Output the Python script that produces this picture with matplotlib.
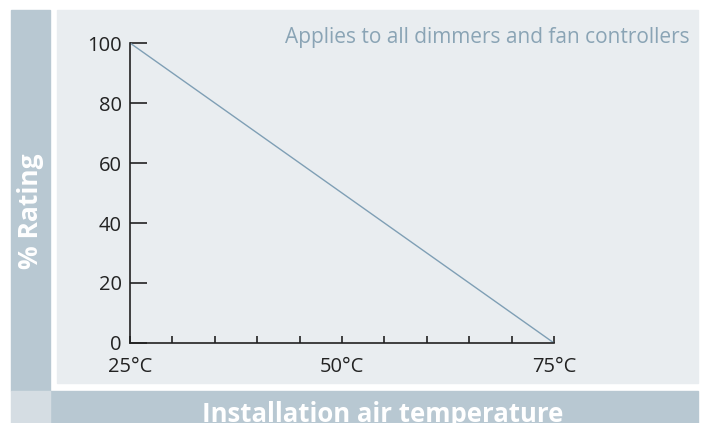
import matplotlib.pyplot as plt
from matplotlib.patches import Rectangle

# Dados do gráfico de derating
temperatura = [25, 75]
rating = [100, 0]
ticks_x = [25, 30, 35, 40, 45, 50, 55, 60, 65, 70, 75]
rotulos_x = {25: "25°C", 50: "50°C", 75: "75°C"}
ticks_y = [0, 20, 40, 60, 80, 100]

W, H = 706, 423
plt.rcParams['font.family'] = ['Open Sans', 'DejaVu Sans']
fig = plt.figure(figsize=(W / 100, H / 100), dpi=100)

def ret(x0, y0, x1, y1, cor):
    # retângulo em pixels (origem no canto superior esquerdo)
    fig.patches.append(Rectangle((x0 / W, 1 - y1 / H), (x1 - x0) / W, (y1 - y0) / H,
                                 transform=fig.transFigure, color=cor, zorder=-5))

ret(11, 10, 50, 391, '#b8c8d2')   # faixa esquerda
ret(57, 10, 698, 383, '#e9edf0')  # painel principal
ret(50, 391, 698, 423, '#b8c8d2') # faixa inferior
ret(11, 391, 50, 423, '#d5dde3')  # canto

ax = fig.add_axes([130 / W, 1 - 343 / H, (554 - 130) / W, (343 - 43) / H])
ax.set_zorder(2)
ax.patch.set_visible(False)
ax.plot(temperatura, rating, color='#7f9fb5', lw=1)
ax.set_xlim(25, 75)
ax.set_ylim(0, 100)
for s in ['top', 'right']:
    ax.spines[s].set_visible(False)
for s in ['left', 'bottom']:
    ax.spines[s].set_linewidth(1.2)
    ax.spines[s].set_color('#222222')

ax.set_yticks(ticks_y)
ax.tick_params(axis='y', direction='in', length=12, width=1.2, color='#222222',
               labelsize=14.5, labelcolor='#222222', pad=6)
ax.set_xticks(ticks_x)
ax.set_xticklabels([rotulos_x.get(t, "") for t in ticks_x])
ax.tick_params(axis='x', direction='in', length=5, width=1.2, color='#222222',
               labelsize=14.5, labelcolor='#222222', pad=10)

fig.text(690 / W, 1 - 37 / H, "Applies to all dimmers and fan controllers",
         ha='right', va='center', fontsize=15, color='#8aa4b5')
fig.text(31 / W, 1 - 211 / H, "% Rating", rotation=90, ha='center', va='center',
         fontsize=19, fontweight='bold', color='white')
fig.text(383 / W, 1 - 414 / H, "Installation air temperature", ha='center', va='center',
         fontsize=18.5, fontweight='bold', color='white')

fig.savefig("out.png", dpi=100)
